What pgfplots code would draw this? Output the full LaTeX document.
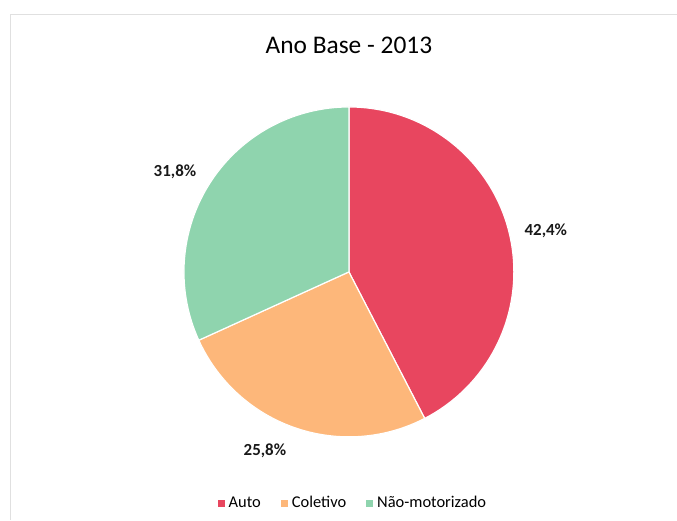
\documentclass[border=0pt]{standalone}
\usepackage{pgfplots}
\pgfplotsset{compat=1.18}
\usepackage{pgfplotstable}
\usepackage{fontspec}
\setmainfont{Carlito}

\definecolor{cAuto}{HTML}{E8465F}
\definecolor{cColetivo}{HTML}{FDB77A}
\definecolor{cNao}{HTML}{8FD4AE}

% participacao por modo, ano base 2013 (%)
\pgfplotstableread[col sep=comma]{
modo,share
Auto,42.4
Coletivo,25.8
Nao-motorizado,31.8
}\sharetable

\begin{document}
\begin{tikzpicture}
\pgfplotstablegetelem{0}{share}\of\sharetable \let\shA\pgfplotsretval
\pgfplotstablegetelem{1}{share}\of\sharetable \let\shB\pgfplotsretval
\pgfplotstablegetelem{2}{share}\of\sharetable \let\shC\pgfplotsretval
\pgfmathsetmacro\angA{90}
\pgfmathsetmacro\angB{\angA-3.6*\shA}
\pgfmathsetmacro\angC{\angB-3.6*\shB}
\pgfmathsetmacro\angD{\angC-3.6*\shC}
\begin{axis}[
    hide axis,
    scale only axis,
    width=677bp, height=520bp,
    xmin=0, xmax=677,
    ymin=0, ymax=520,
    clip=false,
    legend columns=3,
    legend style={
        at={(axis cs:353,17)}, anchor=center,
        draw=none, fill=none,
        font=\fontsize{16.5}{19}\selectfont,
        column sep=3bp,
        /tikz/column 2/.style={column sep=18bp},
        /tikz/column 4/.style={column sep=18bp},
    },
]
\path (axis cs:0,0) rectangle (axis cs:677,520);
\draw[black!12] (axis cs:10,0) -- (axis cs:10,506) -- (axis cs:677,506);

\addlegendimage{only marks, mark=square*, mark size=3bp, cAuto}
\addlegendentry{Auto}
\addlegendimage{only marks, mark=square*, mark size=3bp, cColetivo}
\addlegendentry{Coletivo}
\addlegendimage{only marks, mark=square*, mark size=3bp, cNao}
\addlegendentry{Não-motorizado}

\fill[cAuto, draw=white, line width=1.2bp] (axis cs:349,248) -- ++(\angA:165bp)
    arc[start angle=\angA, end angle=\angB, radius=165bp] -- cycle;
\fill[cColetivo, draw=white, line width=1.2bp] (axis cs:349,248) -- ++(\angB:165bp)
    arc[start angle=\angB, end angle=\angC, radius=165bp] -- cycle;
\fill[cNao, draw=white, line width=1.2bp] (axis cs:349,248) -- ++(\angC:165bp)
    arc[start angle=\angC, end angle=\angD, radius=165bp] -- cycle;

\node[font=\fontsize{25.5}{30}\selectfont] at (axis cs:349,475) {Ano Base - 2013};
\node[font=\fontsize{17}{20}\selectfont\bfseries, text=black!90] at (axis cs:546,289) {42,4\%};
\node[font=\fontsize{17}{20}\selectfont\bfseries, text=black!90] at (axis cs:265,69) {25,8\%};
\node[font=\fontsize{17}{20}\selectfont\bfseries, text=black!90] at (axis cs:175,348) {31,8\%};
\end{axis}
\end{tikzpicture}
\end{document}
